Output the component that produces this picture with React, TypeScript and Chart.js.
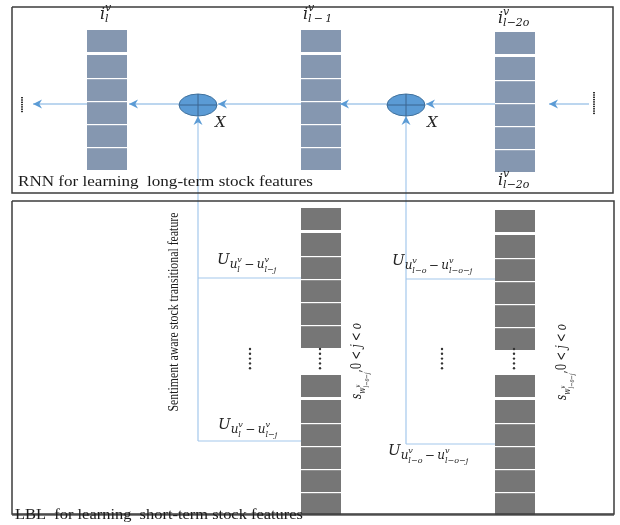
import React, { useEffect, useRef } from "react";
import { Chart, registerables } from "chart.js";

Chart.register(...registerables);

const FONT = '"Liberation Serif", "Times New Roman", serif';
const MATH = '"DejaVu Serif", "Liberation Serif", serif';

// ---- diagram geometry (diagram units = page pixels) ----
const frameTop = [12, 7, 613, 193];
const frameBottom = [12, 201, 614, 514];

const rnnColumnX = [87, 301, 495];
const rnnColumnTop = [30, 30, 32];
const lblColumnX = [301, 301, 495, 495];
const lblColumnTop = [208, 375, 210, 375];
const columnWidth = 40;
const headCell = 22;
const cellGap = 3;
const cellH = 23;
const cellCount = 5;

// arrows: [x0, y0, x1(tip), y1(tip)]
const rnnArrows = [
  [87, 104, 33, 104],
  [180, 104, 129, 104],
  [301, 104, 218, 104],
  [387, 104, 340, 104],
  [495, 104, 426, 104],
  [589, 104, 549, 104],
];
const gateArrows = [
  [198, 441, 198, 116],
  [406, 444, 406, 116],
];
const branchLines = [
  [198, 278, 301, 278],
  [198, 441, 301, 441],
  [406, 279, 495, 279],
  [406, 444, 495, 444],
];
const gates = [
  [198, 105],
  [406, 105],
];
const gateLabelPos = [
  [215, 127],
  [427, 127],
];
const topDots = [
  [22, 97, 113],
  [594, 92, 113],
];
const lowerDotsX = [250, 320, 442, 514];

type Seg = { t: string; s: number; dy?: number; it?: boolean; stay?: boolean };

const HS = "\u2009";

const segI = (sub: string): Seg[] => [
  { t: "i", s: 16, dy: 0, it: true },
  { t: "v", s: 11, dy: -8, it: true, stay: true },
  { t: sub, s: 11, dy: 3, it: true },
];
const segU = (a: string, b: string): Seg[] => [
  { t: "U", s: 15, dy: 0, it: true },
  { t: "u", s: 12, dy: 4, it: true },
  { t: "v", s: 8, dy: -2, it: true, stay: true },
  { t: a, s: 8, dy: 8, it: true },
  { t: HS + "−" + HS + "u", s: 12, dy: 4, it: true },
  { t: "v", s: 8, dy: -2, it: true, stay: true },
  { t: b, s: 8, dy: 8, it: true },
];
const segS: Seg[] = [
  { t: "s", s: 14, dy: 0, it: true },
  { t: "w", s: 10, dy: 4, it: true },
  { t: "v", s: 7, dy: -1, it: true, stay: true },
  { t: "l−o−j", s: 7, dy: 8, it: true },
  { t: ",0 < ", s: 14, dy: 0, it: false },
  { t: "j", s: 14, dy: 0, it: true },
  { t: " < ", s: 14, dy: 0, it: false },
  { t: "o", s: 14, dy: 0, it: true },
];

const columnLabels: { segs: Seg[]; x: number; y: number }[] = [
  { segs: segI("l"), x: 100, y: 19 },
  { segs: segI("l" + HS + "−" + HS + "1"), x: 303, y: 19 },
  { segs: segI("l−2o"), x: 498, y: 23 },
  { segs: segI("l−2o"), x: 498, y: 185 },
];
const uLabels: { segs: Seg[]; x: number; y: number }[] = [
  { segs: segU("l", "l−j"), x: 217, y: 264 },
  { segs: segU("l", "l−j"), x: 218, y: 429 },
  { segs: segU("l−o", "l−o−j"), x: 392, y: 265 },
  { segs: segU("l−o", "l−o−j"), x: 388, y: 455 },
];
const sLabels = [
  [361, 399],
  [566, 400],
];

const titleTop = "RNN for learning  long-term stock features";
const titleBottom = "LBL  for learning  short-term stock features";
const sideTitle = "Sentiment aware stock transitional feature";

function drawRich(ctx: CanvasRenderingContext2D, x: number, y: number, segs: Seg[], dry = false) {
  let cx = x;
  let stayX: number | null = null;
  let stayW = 0;
  for (const sg of segs) {
    ctx.font = `${sg.it ? "italic " : ""}${sg.s}px ${MATH}`;
    const w = ctx.measureText(sg.t).width;
    const sx = stayX !== null ? stayX : cx;
    if (!dry) ctx.fillText(sg.t, sx, y + (sg.dy || 0));
    if (sg.stay) {
      stayX = sx;
      stayW = w;
    } else if (stayX !== null) {
      cx = stayX + Math.max(w, stayW);
      stayX = null;
    } else {
      cx = sx + w;
    }
  }
  return cx - x;
}

function frameData(f: number[]) {
  return [
    { x: f[0], y: f[1] },
    { x: f[2], y: f[1] },
    { x: f[2], y: f[3] },
    { x: f[0], y: f[3] },
    { x: f[0], y: f[1] },
  ];
}

const diagramPlugin = {
  id: "diagram",
  beforeDatasetsDraw(chart: any) {
    const { ctx, scales } = chart;
    const px = (v: number) => scales.x.getPixelForValue(v);
    const py = (v: number) => scales.y.getPixelForValue(v);
    const drawColumn = (x0: number, top: number, fill: string) => {
      ctx.fillStyle = fill;
      const w = px(x0 + columnWidth) - px(x0);
      ctx.fillRect(px(x0), py(top), w, py(top + headCell) - py(top));
      let yy = top + headCell + cellGap;
      for (let i = 0; i < cellCount; i++) {
        const y0 = i === 0 ? yy : yy + 1.2;
        ctx.fillRect(px(x0), py(y0), w, py(yy + cellH) - py(y0));
        yy += cellH;
      }
    };
    ctx.save();
    rnnColumnX.forEach((x0, i) => drawColumn(x0, rnnColumnTop[i], "#8597b0"));
    lblColumnX.forEach((x0, i) => drawColumn(x0, lblColumnTop[i], "#767676"));
    ctx.restore();
  },
  afterDatasetsDraw(chart: any) {
    const { ctx, scales } = chart;
    const px = (v: number) => scales.x.getPixelForValue(v);
    const py = (v: number) => scales.y.getPixelForValue(v);
    ctx.save();
    // arrowheads
    const head = (a: number[], color: string) => {
      const [x0, y0, x1, y1] = a;
      const ang = Math.atan2(py(y1) - py(y0), px(x1) - px(x0));
      const L = 9, W = 4.5;
      ctx.fillStyle = color;
      ctx.beginPath();
      ctx.moveTo(px(x1), py(y1));
      ctx.lineTo(px(x1) - L * Math.cos(ang) + W * Math.sin(ang), py(y1) - L * Math.sin(ang) - W * Math.cos(ang));
      ctx.lineTo(px(x1) - L * Math.cos(ang) * 0.7, py(y1) - L * Math.sin(ang) * 0.7);
      ctx.lineTo(px(x1) - L * Math.cos(ang) - W * Math.sin(ang), py(y1) - L * Math.sin(ang) + W * Math.cos(ang));
      ctx.closePath();
      ctx.fill();
    };
    rnnArrows.forEach((a) => head(a, "#5b9bd5"));
    gateArrows.forEach((a) => head(a, "#5b9bd5"));
    // gates
    gates.forEach(([gx, gy]) => {
      const cx = px(gx), cy = py(gy);
      const rx = 19, ry = 11;
      ctx.beginPath();
      ctx.ellipse(cx, cy, rx, ry, 0, 0, Math.PI * 2);
      ctx.fillStyle = "#5b9bd5";
      ctx.fill();
      ctx.lineWidth = 1;
      ctx.strokeStyle = "#41719c";
      ctx.stroke();
      ctx.beginPath();
      ctx.moveTo(cx - rx, cy);
      ctx.lineTo(cx + rx, cy);
      ctx.moveTo(cx, cy - ry);
      ctx.lineTo(cx, cy + ry);
      ctx.strokeStyle = "#3a6590";
      ctx.stroke();
    });
    ctx.fillStyle = "#222";
    ctx.textBaseline = "alphabetic";
    gateLabelPos.forEach(([x, y]) => {
      ctx.font = `italic 15px ${MATH}`;
      ctx.fillText("X", px(x), py(y));
    });
    // dotted ellipses
    ctx.fillStyle = "#333";
    topDots.forEach(([x, y0, y1]) => {
      for (let yy = y0; yy <= y1; yy += 2.3) ctx.fillRect(px(x) - 1, py(yy), 2, 1.4);
    });
    lowerDotsX.forEach((x) => {
      for (let k = 0; k < 5; k++) {
        ctx.beginPath();
        ctx.arc(px(x), py(349 + k * 4.8), 1.2, 0, Math.PI * 2);
        ctx.fill();
      }
    });
    // math labels
    ctx.fillStyle = "#222";
    columnLabels.forEach((l) => drawRich(ctx, px(l.x), py(l.y), l.segs));
    uLabels.forEach((l) => drawRich(ctx, px(l.x), py(l.y), l.segs));
    sLabels.forEach(([x, y]) => {
      ctx.save();
      ctx.translate(px(x), py(y));
      ctx.rotate(-Math.PI / 2);
      const w = drawRich(ctx, 0, 0, segS, true);
      ctx.scale(76 / w, 1);
      drawRich(ctx, 0, 0, segS);
      ctx.restore();
    });
    // titles
    const fitText = (t: string, x: number, y: number, width: number, size: number) => {
      ctx.save();
      ctx.font = `${size}px ${FONT}`;
      const w = ctx.measureText(t).width;
      ctx.translate(px(x), py(y));
      ctx.scale(width / w, 1);
      ctx.fillText(t, 0, 0);
      ctx.restore();
    };
    ctx.fillStyle = "#1a1a1a";
    fitText(titleTop, 18, 186, 295, 14);
    fitText(titleBottom, 15, 519, 288, 14);
    ctx.save();
    ctx.translate(px(174), py(312));
    ctx.rotate(-Math.PI / 2);
    ctx.font = `15px ${FONT}`;
    const sw = ctx.measureText(sideTitle).width;
    ctx.scale(199 / sw, 1);
    ctx.textAlign = "center";
    ctx.textBaseline = "middle";
    ctx.fillText(sideTitle, 0, 0);
    ctx.restore();
    ctx.restore();
  },
};

export default function App() {
  const ref = useRef<HTMLCanvasElement | null>(null);
  useEffect(() => {
    if (!ref.current) return;
    const line = (pts: { x: number; y: number }[], color: string, width: number) => ({
      data: pts,
      showLine: true,
      borderColor: color,
      borderWidth: width,
      pointRadius: 0,
      fill: false,
    });
    const datasets: any[] = [
      line(frameData(frameTop), "#3c3c3c", 1.5),
      line(frameData(frameBottom), "#3c3c3c", 1.5),
      line([{ x: frameBottom[0], y: frameBottom[3] + 1 }, { x: frameBottom[2], y: frameBottom[3] + 1 }], "#555", 1.5),
      ...rnnArrows.map((a) => line([{ x: a[0], y: a[1] }, { x: a[2], y: a[3] }], "#7aaee0", 1.2)),
      ...gateArrows.map((a) => line([{ x: a[0], y: a[1] }, { x: a[2], y: a[3] }], "#a4c8ec", 1.2)),
      ...branchLines.map((a) => line([{ x: a[0], y: a[1] }, { x: a[2], y: a[3] }], "#a4c8ec", 1.2)),
    ];
    const chart = new Chart(ref.current, {
      type: "scatter",
      data: { datasets },
      options: {
        animation: false,
        responsive: false,
        maintainAspectRatio: false,
        layout: { padding: 0 },
        events: [],
        scales: {
          x: { type: "linear", min: 0, max: 620, display: false },
          y: { type: "linear", min: 0, max: 525, reverse: true, display: false },
        },
        plugins: { legend: { display: false }, tooltip: { enabled: false } },
      },
      plugins: [diagramPlugin],
    });
    return () => chart.destroy();
  }, []);
  return (
    <div style={{ position: "absolute", left: 0, top: 0, width: 620, height: 525, background: "#fff" }}>
      <canvas ref={ref} width={620} height={525} />
    </div>
  );
}
